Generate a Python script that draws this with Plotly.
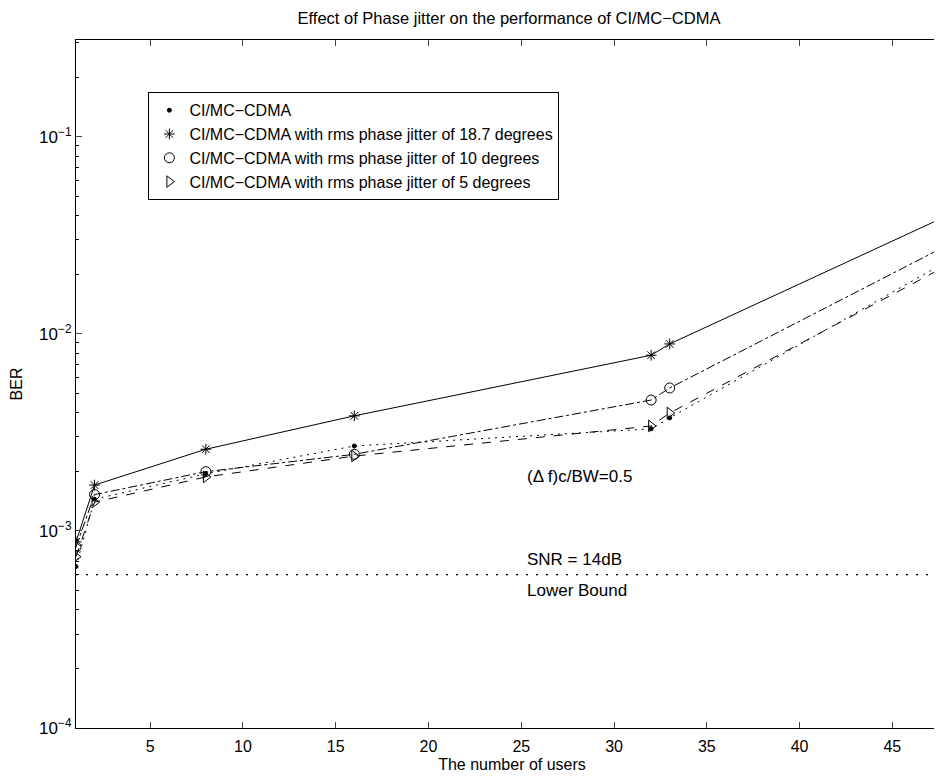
import plotly.graph_objects as go

# ---------------- data ----------------
users = [1, 2, 8, 16, 32, 33, 48]
ber_ideal = [6.6e-4, 1.45e-3, 1.95e-3, 2.7e-3, 3.3e-3, 3.75e-3, 2.35e-2]
ber_jitter_18_7 = [8.8e-4, 1.71e-3, 2.6e-3, 3.84e-3, 7.8e-3, 8.9e-3, 4.0e-2]
ber_jitter_10 = [8.3e-4, 1.53e-3, 2.0e-3, 2.45e-3, 4.62e-3, 5.32e-3, 2.83e-2]
ber_jitter_5 = [7.4e-4, 1.40e-3, 1.88e-3, 2.40e-3, 3.41e-3, 3.97e-3, 2.24e-2]
lower_bound = 6.0e-4

series_names = [
    "CI/MC\u2212CDMA",
    "CI/MC\u2212CDMA with rms phase jitter of 18.7 degrees",
    "CI/MC\u2212CDMA with rms phase jitter of 10 degrees",
    "CI/MC\u2212CDMA with rms phase jitter of 5 degrees",
]
x_ticks = [5, 10, 15, 20, 25, 30, 35, 40, 45]
y_ticks = [1e-4, 1e-3, 1e-2, 1e-1]
y_ticktext = ["10<sup>\u22124</sup>", "10<sup>\u22123</sup>", "10<sup>\u22122</sup>", "10<sup>\u22121</sup>"]
y_minor_ticks = [m * d for d in [1e-4, 1e-3, 1e-2, 1e-1] for m in range(2, 10)]

FONT = "Liberation Sans, Arial, Helvetica, sans-serif"
Y_RANGE = [-4, -0.508]

series = [
    (ber_ideal, "2px,5px", "circle", 4),
    (ber_jitter_18_7, "solid", "asterisk-open", 9),
    (ber_jitter_10, "dashdot", "circle-open", 10),
    (ber_jitter_5, "dash", "triangle-right-open", 10),
]

fig = go.Figure()
for (vals, dash, sym, size), name in zip(series, series_names):
    fig.add_trace(go.Scatter(
        x=users, y=vals, mode="lines+markers", showlegend=False,
        line=dict(color="black", width=1, dash=dash),
        marker=dict(symbol=sym, size=size, color="black",
                    line=dict(color="black", width=1)),
    ))
# legend entries (marker only, like the MATLAB legend)
for (vals, dash, sym, size), name in zip(series, series_names):
    fig.add_trace(go.Scatter(
        x=[None], y=[None], mode="markers", name=name,
        marker=dict(symbol=sym, size=size, color="black",
                    line=dict(color="black", width=1)),
    ))

# lower bound line
fig.add_trace(go.Scatter(
    x=[min(users), max(users)], y=[lower_bound, lower_bound],
    mode="lines", showlegend=False,
    line=dict(color="black", width=1.2, dash="2px,8px"),
))

# invisible trace on the minor-tick axis so it is drawn
fig.add_trace(go.Scatter(x=[None], y=[None], yaxis="y2", showlegend=False))

fig.update_layout(
    width=942, height=777,
    paper_bgcolor="white", plot_bgcolor="white",
    margin=dict(l=68, r=2, t=32, b=57, autoexpand=False),
    font=dict(family=FONT, size=15, color="black"),
    title=dict(text="Effect of Phase jitter on the performance of CI/MC\u2212CDMA",
               x=501 / 942, xanchor="center", y=1 - 10 / 777, yanchor="middle",
               font=dict(size=16.5, family=FONT, color="black")),
    legend=dict(x=0.083, y=0.924, xanchor="left", yanchor="top",
                bordercolor="black", borderwidth=1, bgcolor="white",
                font=dict(size=16, family=FONT, color="black"),
                itemwidth=30, tracegroupgap=0),
    xaxis=dict(range=[1, 48], tickvals=x_ticks, ticks="inside", ticklen=6,
               showline=True, linecolor="black", linewidth=1, mirror="ticks",
               showgrid=False, zeroline=False, automargin=False,
               ticklabelstandoff=4,
               title=dict(text="The number of users", standoff=4,
                          font=dict(size=16, family=FONT, color="black")),
               tickfont=dict(size=16, family=FONT, color="black")),
    yaxis=dict(type="log", range=Y_RANGE, tickvals=y_ticks, ticktext=y_ticktext,
               ticks="inside", ticklen=6,
               showline=True, linecolor="black", linewidth=1, mirror="ticks",
               showgrid=False, zeroline=False, automargin=False,
               title=dict(text="BER", standoff=12,
                          font=dict(size=16, family=FONT, color="black")),
               tickfont=dict(size=17, family=FONT, color="black")),
    yaxis2=dict(type="log", range=Y_RANGE, overlaying="y", tickvals=y_minor_ticks,
                showticklabels=False, ticks="inside", ticklen=3, tickcolor="black",
                mirror="ticks", showline=False, showgrid=False, zeroline=False,
                automargin=False, side="left"),
)

fig.add_annotation(x=25.2, y=-2.721, xref="x", yref="y", text="(\u0394 f)c/BW=0.5",
                   showarrow=False, xanchor="left", yanchor="middle",
                   font=dict(size=17, family=FONT, color="black"))
fig.add_annotation(x=25.2, y=-3.147, xref="x", yref="y", text="SNR = 14dB",
                   showarrow=False, xanchor="left", yanchor="middle",
                   font=dict(size=17, family=FONT, color="black"))
fig.add_annotation(x=25.2, y=-3.30, xref="x", yref="y", text="Lower Bound",
                   showarrow=False, xanchor="left", yanchor="middle",
                   font=dict(size=17, family=FONT, color="black"))

fig.write_html("out.html")
